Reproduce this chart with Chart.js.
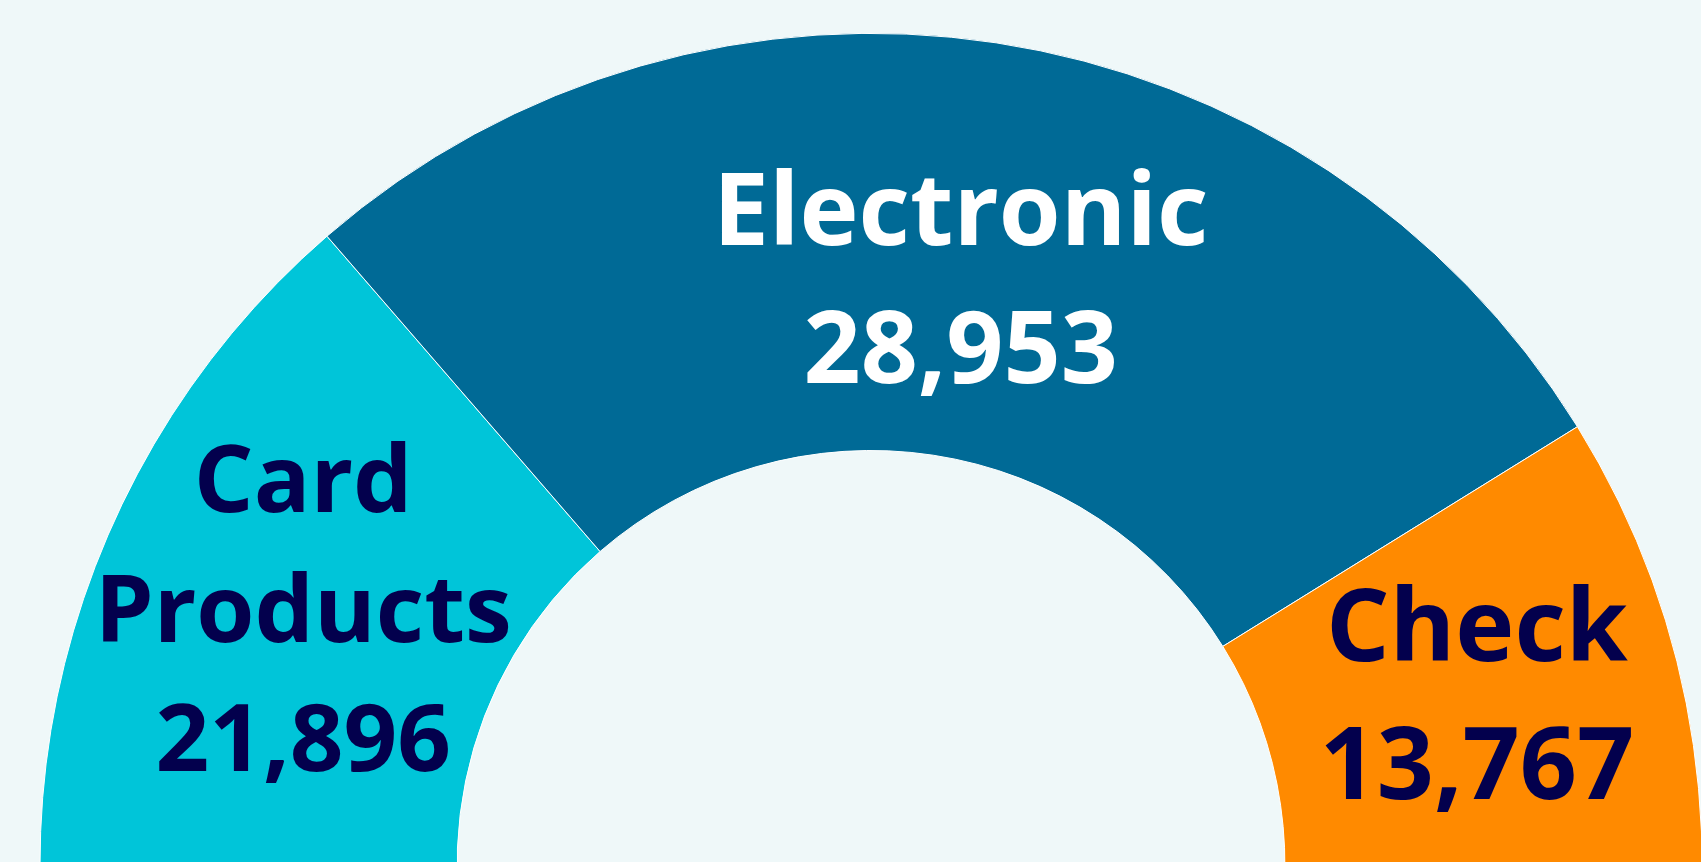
<!DOCTYPE html>
<html>
<head>
<meta charset="utf-8">
<script src="https://cdn.jsdelivr.net/npm/chart.js@4/dist/chart.umd.min.js"></script>
<style>
  html, body { margin: 0; padding: 0; background: #eff8f9; overflow: hidden; }
  #wrap { position: relative; width: 1701px; height: 1260px; }
</style>
</head>
<body>
<div id="wrap"><canvas id="chart"></canvas></div>
<script>
// payment types and counts
const categories = ['Card Products', 'Electronic', 'Check'];
const labelLines = [['Card', 'Products'], ['Electronic'], ['Check']];
const counts = [21896, 28953, 13767];

const sliceColors = ['#00c5d9', '#006a96', '#ff8a00'];
const textColors = ['#03004d', '#ffffff', '#03004d'];
const fontSizes = [94, 100, 100];

// draws the labels in the visible (upper) part of each slice
const sliceLabels = {
  id: 'sliceLabels',
  afterDatasetsDraw(chart) {
    const ctx = chart.ctx;
    const meta = chart.getDatasetMeta(0);
    meta.data.forEach((arc, i) => {
      const p = arc.getProps(['x', 'y', 'startAngle', 'endAngle', 'innerRadius', 'outerRadius'], true);
      const a0 = Math.max(p.startAngle, -Math.PI);
      const a1 = Math.min(p.endAngle, 0);
      const mid = (a0 + a1) / 2;
      const half = (a1 - a0) / 2;
      const R = p.outerRadius, r0 = p.innerRadius;
      // halfway between the ring middle and the area centroid of the visible part
      const rMid = (R + r0) / 2;
      const rCen = (2 / 3) * (R * R * R - r0 * r0 * r0) / (R * R - r0 * r0) * Math.sin(half) / half;
      const r = (rMid + rCen) / 2;
      const cx = p.x + Math.cos(mid) * r;
      const cy = p.y + Math.sin(mid) * r + 10;
      const lines = labelLines[i].concat([counts[i].toLocaleString('en-US')]);
      const size = fontSizes[i];
      const lh = size * 1.38;
      ctx.save();
      ctx.font = '700 ' + size + 'px "Open Sans"';
      ctx.fillStyle = textColors[i];
      ctx.textAlign = 'center';
      ctx.textBaseline = 'middle';
      lines.forEach((t, k) => {
        ctx.fillText(t, cx, cy + (k - (lines.length - 1) / 2) * lh);
      });
      ctx.restore();
    });
  }
};

new Chart(document.getElementById('chart'), {
  type: 'doughnut',
  data: {
    labels: categories,
    datasets: [{
      data: counts,
      backgroundColor: sliceColors,
      borderColor: '#ffffff',
      borderWidth: 1
    }]
  },
  options: {
    responsive: true,
    maintainAspectRatio: false,
    animation: false,
    rotation: -115.85,
    circumference: 221.2,
    radius: 831,
    cutout: '49.8%',
    layout: { padding: { left: 41 } },
    plugins: {
      legend: { display: false },
      tooltip: { enabled: false }
    }
  },
  plugins: [sliceLabels]
});
</script>
</body>
</html>
